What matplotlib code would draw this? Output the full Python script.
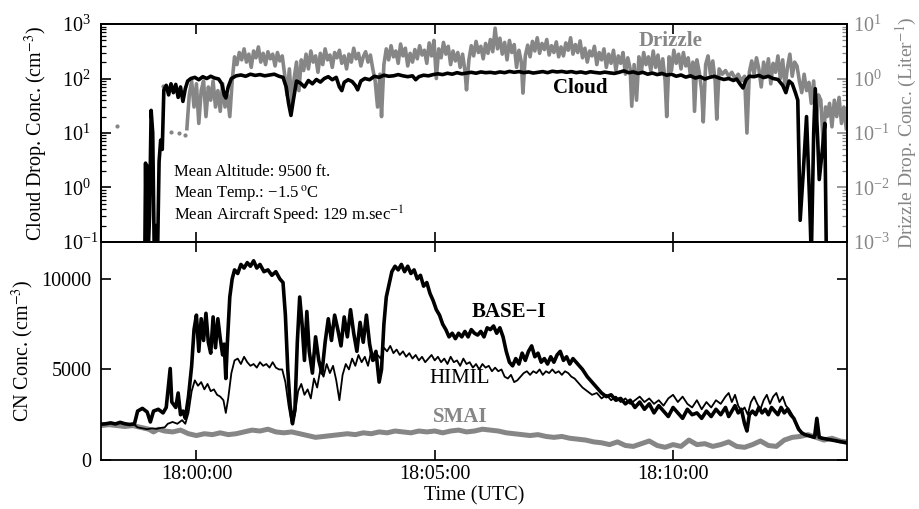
import matplotlib
matplotlib.use('Agg')
import matplotlib.pyplot as plt
from matplotlib.ticker import FuncFormatter, LogLocator, NullFormatter

# ---------------- data (time in seconds after 17:58:00 UTC) ----------------
cloud = [(55,0.05),(56,2.8),(57,0.1),(58,2.5),(59,0.05),(61,0.3),(63,26),(65,10),(67,0.05),(69,0.2),(71,0.05),(73,3),(75,7.4),(77,5),
         (79,62),(82,75),(85,50),(88,80),(91,55),(94,78),(97,45),(100,70),(103,38),(106,65),(109,90),(113,100),(118,105),(123,95),
         (128,108),(133,100),(138,110),(143,102),(148,98),(152,80),(155,50),(157,44),(160,70),(164,100),(170,112),(176,116),(182,110),
         (188,120),(194,114),(200,118),(206,112),(212,116),(218,120),(224,110),(229,105),(233,70),(236,35),(239,21),(242,40),(246,90),
         (251,82),(256,70),(261,92),(266,80),(271,96),(276,86),(281,100),(286,108),(291,95),(296,105),(300,70),(303,60),(306,85),(311,95),
         (316,88),(320,75),(323,62),(327,90),(332,100),(338,95),(344,110),(350,105),(356,115),(362,110),(368,112),(374,118),(380,112),
         (386,108),(392,112),(396,95),(400,108),(406,115),(412,112),(418,118),(424,122),(430,118),(436,125),(442,120),(448,128),(454,122),
         (460,126),(466,130),(472,125),(478,132),(484,128),(490,130),(496,126),(502,132),(508,128),(514,135),(520,130),(526,134),(532,128),
         (538,132),(544,126),(550,130),(556,134),(562,128),(568,136),(574,132),(580,135),(586,130),(592,134),(598,128),(604,132),(610,126),
         (616,133),(622,129),(628,126),(634,131),(640,127),(646,124),(652,130),(658,138),(664,128),(670,132),(676,124),(682,130),(688,120),
         (694,126),(700,118),(706,124),(712,115),(718,120),(724,110),(730,116),(736,106),(742,112),(748,102),(754,108),(760,98),(766,105),
         (772,110),(778,102),(784,96),(790,100),(796,92),(800,98),(804,80),(808,67),(812,95),(816,110),(822,108),(828,114),(834,104),
         (840,110),(846,100),(852,96),(858,75),(862,55),(866,90),(870,80),(874,55),(877,40),(880,0.25),(884,2),(888,20),(892,0.5),
         (894,0.05),(897,10),(899,65),(902,8),(904,1.4),(908,5),(911,15),(913,0.05)]

drizzle = [(108,0.12),(111,0.5),(114,0.9),(117,0.3),(120,0.8),(123,0.15),(126,0.6),(129,0.9),(132,0.2),(135,0.7),(138,0.4),(141,0.9),
           (144,0.3),(147,0.6),(150,0.25),(153,0.8),(156,0.3),(159,0.5),(162,0.2),(165,0.9),(168,2.5),(171,1.8),(174,3.0),(177,2.2),
           (180,3.5),(183,2.0),(186,2.8),(189,1.6),(192,3.2),(195,2.4),(198,3.8),(201,2.0),(204,2.9),(207,1.8),(210,3.1),(213,2.3),
           (216,2.8),(219,1.7),(222,3.0),(225,2.1),(228,2.6),(231,1.2),(234,0.5),(237,1.5),(240,0.35),(243,1.0),(246,2.0),(249,0.6),
           (252,2.2),(255,1.4),(258,2.8),(261,1.5),(264,3.2),(267,2.0),(270,2.6),(273,1.3),(276,2.9),(279,1.8),(282,3.5),(285,2.2),
           (288,2.7),(291,1.6),(294,3.0),(297,2.4),(300,3.3),(303,1.9),(306,2.6),(309,1.5),(312,2.8),(315,2.0),(318,3.6),(321,2.3),
           (324,2.9),(327,1.7),(330,2.5),(333,3.1),(336,2.0),(339,2.7),(342,1.5),(345,0.9),(348,0.3),(351,1.2),(353,0.2),(356,1.8),
           (359,3.5),(362,2.2),(365,4.0),(368,2.5),(371,3.2),(374,1.9),(377,4.3),(380,2.6),(383,3.6),(386,1.7),(389,2.9),(392,2.0),
           (395,3.4),(398,2.3),(401,4.0),(404,2.7),(407,3.3),(410,1.9),(413,4.5),(416,2.6),(419,5.0),(422,1.0),(425,3.5),(428,2.4),
           (431,4.6),(434,2.8),(437,3.9),(440,1.8),(443,3.2),(446,2.1),(449,3.0),(452,1.6),(455,2.8),(458,1.4),(460,0.62),(463,2.2),
           (466,4.0),(469,2.6),(472,4.8),(475,3.0),(478,3.9),(481,2.3),(484,4.4),(487,2.9),(490,5.2),(493,3.1),(496,8.4),(499,3.5),
           (502,5.5),(505,2.8),(508,4.6),(511,2.2),(514,5.0),(517,3.0),(520,4.2),(523,1.6),(526,3.3),(529,2.0),(531,0.54),(534,2.6),
           (537,4.1),(540,2.5),(543,4.8),(546,3.2),(549,5.6),(552,2.9),(555,4.4),(558,3.4),(561,5.2),(564,2.7),(567,4.0),(570,3.0),
           (573,4.7),(576,2.5),(579,3.8),(582,2.6),(585,4.5),(588,3.3),(591,5.6),(594,2.8),(597,4.2),(600,3.0),(603,4.9),(606,2.4),
           (609,3.6),(612,2.0),(615,3.2),(618,2.6),(621,3.9),(624,1.8),(627,3.0),(630,2.2),(633,3.5),(636,1.6),(639,2.8),(642,1.9),
           (645,3.3),(648,1.4),(651,2.6),(654,1.9),(657,3.0),(660,1.2),(663,2.4),(666,1.5),(668,0.31),(671,1.8),(674,0.4),(677,2.5),
           (680,1.3),(683,3.0),(686,1.8),(689,2.5),(692,1.4),(695,3.2),(698,1.6),(701,2.7),(704,1.2),(707,2.3),(710,0.9),(712,0.2),
           (715,2.5),(718,1.4),(721,3.3),(724,1.9),(727,2.8),(730,1.5),(733,3.0),(736,1.7),(739,2.4),(742,1.1),(745,2.0),(747,0.25),
           (750,2.2),(753,1.3),(756,0.6),(758,0.16),(761,1.8),(764,2.6),(767,1.2),(770,2.1),(773,0.9),(775,0.18),(778,1.5),(782,1.2),
           (786,1.4),(790,1.1),(794,1.3),(798,1.0),(802,1.2),(806,0.9),(810,1.1),(813,0.1),(816,1.3),(819,2.1),(822,1.2),(825,2.4),
           (828,1.5),(831,0.7),(834,2.0),(837,1.1),(840,2.3),(843,0.8),(846,1.9),(849,1.3),(852,2.6),(855,1.0),(858,2.2),(861,0.7),
           (864,1.6),(867,2.8),(870,1.1),(873,2.0),(876,1.7),(879,0.9),(882,0.55),(885,1.2),(888,0.6),(891,0.85),(894,0.35),(897,0.9),
           (900,0.15),(903,0.5),(906,0.4),(909,0.065),(912,0.3),(914,0.2),(917,0.35),(920,0.13),(923,0.4),(926,0.2),(929,0.45),
           (932,0.15),(935,0.3),(938,0.12)]

drizzle_dots = [(20,0.135),(78,0.72),(88,0.105),(98,0.10),(106,0.09)]

base_i = [(0,1980),(6,2000),(12,2050),(18,1990),(24,2080),(30,2000),(36,1960),(42,2000),(46,2700),(52,2850),(58,2650),(62,2100),
          (66,2700),(72,2800),(78,2600),(82,2900),(85,4200),(87,5050),(89,3200),(94,2900),(97,3700),(100,2500),(103,2700),(106,2300),
          (110,3500),(114,5200),(117,7200),(120,8000),(123,6000),(126,7800),(129,6600),(132,8100),(135,6500),(138,5900),(141,7900),
          (144,6200),(147,7800),(150,6700),(153,5800),(155,6400),(157,4500),(159,6500),(162,9000),(165,10000),(168,10500),(172,10300),
          (176,10800),(180,10600),(184,10900),(188,10700),(192,11000),(196,10600),(200,10800),(205,10400),(210,10500),(215,10200),
          (220,10400),(225,10000),(229,9800),(232,8000),(235,5000),(238,3000),(241,2000),(244,2800),(247,6500),(250,9000),(253,7500),
          (256,5500),(259,8200),(262,6000),(266,4800),(270,6800),(274,5500),(278,4800),(282,6500),(286,7800),(290,6600),(294,8000),
          (298,7200),(302,6300),(306,7900),(310,6800),(314,8300),(318,7000),(322,6000),(326,7600),(330,6500),(334,8000),(338,6400),
          (342,5500),(346,6000),(350,4300),(353,5000),(356,7500),(359,9000),(362,9600),(366,10400),(370,10700),(374,10500),
          (378,10800),(382,10400),(386,10700),(390,10300),(394,10500),(398,10000),(402,10200),(406,9600),(410,9800),(414,9200),
          (418,8800),(422,8300),(426,8000),(430,7500),(434,7200),(438,6800),(442,7000),(446,6700),(450,7000),(454,6800),(458,7100),
          (462,6800),(466,7200),(470,7000),(474,6900),(478,7100),(482,6800),(486,7300),(490,7200),(494,7400),(498,7000),(502,7300),
          (506,6800),(510,6000),(514,5400),(518,5200),(522,5600),(526,5300),(530,5900),(534,5500),(538,6000),(542,6300),(546,5700),
          (550,5900),(554,5400),(558,5600),(562,5300),(566,5700),(570,5400),(574,5800),(578,6000),(582,5500),(586,5700),(590,5300),
          (594,5600),(598,5400),(606,5000),(612,4600),(618,4300),(624,4000),(630,3700),(636,3500),(642,3600),(648,3300),(654,3400),
          (660,3100),(666,3300),(672,2900),(678,3200),(684,2800),(690,3100),(696,2600),(702,3000),(708,2700),(714,2400),(720,2900),
          (726,2600),(732,2300),(738,2800),(744,2500),(750,2600),(756,2300),(762,2700),(768,2400),(774,2800),(780,2500),(786,2900),
          (790,2400),(794,2700),(798,3000),(802,2600),(806,2800),(810,2000),(813,1600),(816,2500),(820,2700),(824,2500),(828,2900),
          (832,2600),(836,2800),(840,2500),(844,2900),(848,2700),(852,2500),(856,2900),(860,2600),(864,2800),(868,2500),(872,2300),
          (875,2000),(878,1700),(882,1500),(886,1400),(890,1350),(894,1300),(898,1250),(901,2300),(904,1250),(908,1200),(914,1150),
          (920,1100),(926,1050),(932,1000),(938,950)]

himil = [(0,1950),(6,2000),(12,2050),(18,2000),(24,2050),(30,1980),(36,2000),(42,1950),(46,1800),(52,1750),(58,1700),(64,1750),
         (70,1720),(76,1780),(80,1800),(84,2000),(90,2100),(96,2000),(102,2200),(106,2000),(110,2600),(114,3800),(118,4400),(122,4100),
         (126,4300),(130,3900),(134,4200),(138,3800),(142,3900),(146,3600),(150,3500),(154,3300),(157,2600),(160,3400),(164,4800),
         (168,5500),(172,5600),(176,5300),(180,5700),(184,5400),(188,5200),(192,5300),(196,5100),(200,5400),(204,5200),(208,5300),
         (212,5100),(216,5400),(220,5100),(224,5000),(228,5000),(232,4300),(236,3000),(240,2000),(244,2500),(248,3800),(252,4200),
         (256,3600),(260,3900),(264,3400),(268,4500),(272,4000),(276,5000),(280,4600),(284,5300),(288,4800),(292,5200),(296,4400),
         (300,3300),(304,4700),(308,5300),(312,5000),(316,5600),(320,5200),(324,5800),(328,5400),(332,5700),(336,5200),(340,6000),
         (344,5500),(348,5800),(352,5600),(356,6200),(360,6000),(364,6300),(368,5900),(372,6100),(376,5800),(380,6000),(384,5700),
         (388,5900),(392,5600),(396,5800),(400,5500),(404,5700),(408,5400),(412,5600),(416,5800),(420,5500),(424,5700),(428,5400),
         (432,5600),(436,5300),(440,5700),(444,5400),(448,5500),(452,5200),(456,5600),(460,5300),(464,5400),(468,5100),(472,5300),
         (476,5000),(480,5300),(484,5100),(488,5200),(492,4900),(496,5100),(500,4900),(504,5000),(508,4600),(512,4500),(516,4700),
         (520,4300),(524,4400),(528,4600),(532,4800),(536,4900),(540,4700),(544,4900),(548,4800),(552,5000),(556,4700),(560,4900),
         (564,4800),(568,5000),(572,4800),(576,4900),(580,4700),(584,4900),(588,4800),(592,4600),(596,4500),(600,4300),(606,4000),
         (612,3800),(618,3600),(624,3700),(630,3400),(636,3600),(642,3300),(648,3500),(654,3200),(660,3400),(666,3100),(672,3300),
         (678,3500),(684,3200),(690,3400),(696,3100),(702,3300),(708,3000),(714,3400),(720,3600),(726,3200),(732,3500),(738,3100),
         (744,2900),(750,3300),(756,2800),(762,3200),(768,2900),(774,3300),(780,3100),(786,3500),(790,3700),(794,3200),(798,3600),
         (802,3000),(806,2700),(810,2900),(814,2500),(818,3200),(822,3500),(826,3100),(830,2800),(834,3300),(838,3600),(842,3100),
         (846,3500),(850,3700),(854,3200),(858,3500),(862,3000),(866,2800),(870,2500),(874,2100),(878,1800),(882,1500),(886,1400),
         (890,1350),(894,1300),(898,1250),(902,1500),(906,1200),(912,1150),(918,1100),(924,1050),(930,1000),(938,950)]

smai = [(0,1900),(10,1950),(20,1900),(30,1850),(40,1900),(50,1800),(60,1700),(66,1550),(72,1700),(80,1600),(90,1550),(100,1650),
        (110,1450),(120,1350),(130,1450),(140,1400),(150,1500),(160,1400),(170,1450),(180,1550),(190,1650),(200,1600),(210,1700),
        (220,1550),(230,1500),(240,1550),(250,1450),(260,1350),(270,1250),(280,1300),(290,1350),(300,1400),(310,1450),(320,1400),
        (330,1500),(340,1450),(350,1550),(360,1500),(370,1600),(380,1550),(390,1500),(400,1600),(410,1550),(420,1600),(430,1500),
        (440,1600),(450,1650),(460,1550),(470,1600),(480,1700),(490,1650),(500,1600),(510,1500),(520,1450),(530,1400),(540,1350),
        (550,1400),(560,1300),(570,1250),(580,1300),(590,1200),(600,1150),(610,1100),(620,1000),(630,950),(640,850),(650,1000),
        (660,800),(670,750),(680,900),(690,1050),(700,800),(710,700),(720,850),(730,750),(740,1100),(750,850),(760,900),(770,750),
        (780,850),(790,1000),(800,750),(810,700),(820,850),(830,1050),(840,800),(850,750),(860,1100),(870,1250),(880,1300),
        (890,1400),(900,1250),(910,1100),(920,1200),(930,1050),(938,1000)]

time_ticks = [120, 420, 720]          # 18:00:00, 18:05:00, 18:10:00
start_seconds = 17 * 3600 + 58 * 60   # 17:58:00

# ---------------- style ----------------
plt.rcParams['font.family'] = ['Liberation Serif', 'DejaVu Serif']
plt.rcParams['mathtext.fontset'] = 'stix'
plt.rcParams['axes.linewidth'] = 1.3
GRAY = '#868686'
FS = 14.5


def unzip(pairs):
    return [p[0] for p in pairs], [p[1] for p in pairs]


def fmt_time(t, pos):
    s = int(round(t)) + start_seconds
    return f"{s // 3600:02d}:{(s % 3600) // 60:02d}:{s % 60:02d}"


fig = plt.figure(figsize=(9.19, 5.09), dpi=100)
ax1 = fig.add_axes([0.110, 0.5246, 0.8117, 0.4282])
ax2 = fig.add_axes([0.110, 0.0963, 0.8117, 0.4283])
ax1r = ax1.twinx()

# ---- top panel ----
t, v = unzip(drizzle)
ax1r.plot(t, v, color=GRAY, lw=2.6, solid_joinstyle='round')
t, v = unzip(drizzle_dots)
ax1r.plot(t, v, 'o', color=GRAY, ms=3, mew=0)
t, v = unzip(cloud)
ax1.plot(t, v, color='black', lw=2.6, solid_joinstyle='round')
ax1.set_zorder(ax1r.get_zorder() + 1)
ax1.patch.set_visible(False)

ax1.set_yscale('log')
ax1.set_ylim(0.1, 1000)
ax1r.set_yscale('log')
ax1r.set_ylim(1e-3, 10)
ax1.set_xlim(0, 939)
ax1.set_xticks(time_ticks)
ax1.yaxis.set_minor_locator(LogLocator(base=10, subs=range(2, 10), numticks=20))
ax1r.yaxis.set_minor_locator(LogLocator(base=10, subs=range(2, 10), numticks=20))
ax1.yaxis.set_minor_formatter(NullFormatter())
ax1r.yaxis.set_minor_formatter(NullFormatter())
ax1.tick_params(axis='both', which='major', direction='in', length=7, width=1.2, labelsize=FS,
                top=True, right=False, labelbottom=False)
ax1.tick_params(axis='y', which='major', pad=28)
ax1.tick_params(axis='both', which='minor', direction='in', length=3.5, width=0.9, right=False)
for lab in ax1.get_yticklabels():
    lab.set_horizontalalignment('left')
ax1r.tick_params(axis='y', which='major', direction='in', length=7, width=1.2, colors=GRAY, labelsize=FS, pad=4)
ax1r.tick_params(axis='y', which='minor', direction='in', length=3.5, width=0.9, colors=GRAY)
ax1r.spines['right'].set_color('black')
ax1.set_ylabel('Cloud Drop. Conc. (cm$^{-3}$)', fontsize=FS)
ax1.yaxis.set_label_coords(-0.068, 0.5)
ax1r.set_ylabel('Drizzle Drop. Conc. (Liter$^{-1}$)', fontsize=14, color=GRAY)
ax1r.yaxis.set_label_coords(1.063, 0.5)

ax1.text(0.763, 0.922, 'Drizzle', transform=ax1.transAxes, color=GRAY, fontsize=15,
         fontweight='bold', ha='center', va='center')
ax1.text(0.642, 0.706, 'Cloud', transform=ax1.transAxes, color='black', fontsize=15,
         fontweight='bold', ha='center', va='center')
ax1.text(0.098, 0.321, 'Mean Altitude: 9500 ft.', transform=ax1.transAxes, fontsize=12, va='center')
ax1.text(0.098, 0.222, 'Mean Temp.: \u22121.5$\\,^{\\mathrm{o}}$C', transform=ax1.transAxes, fontsize=12, va='center')
ax1.text(0.098, 0.121, 'Mean Aircraft Speed: 129 m.sec$^{-1}$', transform=ax1.transAxes, fontsize=12, va='center')

# ---- bottom panel ----
t, v = unzip(smai)
ax2.plot(t, v, color=GRAY, lw=3.6, solid_joinstyle='round')
t, v = unzip(himil)
ax2.plot(t, v, color='black', lw=1.3)
t, v = unzip(base_i)
ax2.plot(t, v, color='black', lw=2.6, solid_joinstyle='round')

ax2.set_xlim(0, 939)
ax2.set_ylim(0, 12040)
ax2.set_yticks([0, 5000, 10000])
ax2.set_xticks(time_ticks)
ax2.xaxis.set_major_formatter(FuncFormatter(fmt_time))
ax2.tick_params(axis='both', which='major', direction='in', length=7, width=1.2, labelsize=FS,
                top=True, right=True)
ax2.tick_params(axis='y', which='major', pad=7)
ax2.set_ylabel('CN Conc. (cm$^{-3}$)', fontsize=FS)
ax2.yaxis.set_label_coords(-0.087, 0.5)
ax2.set_xlabel('Time (UTC)', fontsize=FS, labelpad=2)

ax2.text(0.547, 0.677, 'BASE\u2212I', transform=ax2.transAxes, fontsize=15, fontweight='bold',
         ha='center', va='center')
ax2.text(0.480, 0.376, 'HIMIL', transform=ax2.transAxes, fontsize=15, ha='center', va='center')
ax2.text(0.482, 0.198, 'SMAI', transform=ax2.transAxes, fontsize=15, fontweight='bold', color=GRAY,
         ha='center', va='center')

fig.savefig('out.png', dpi=100)
